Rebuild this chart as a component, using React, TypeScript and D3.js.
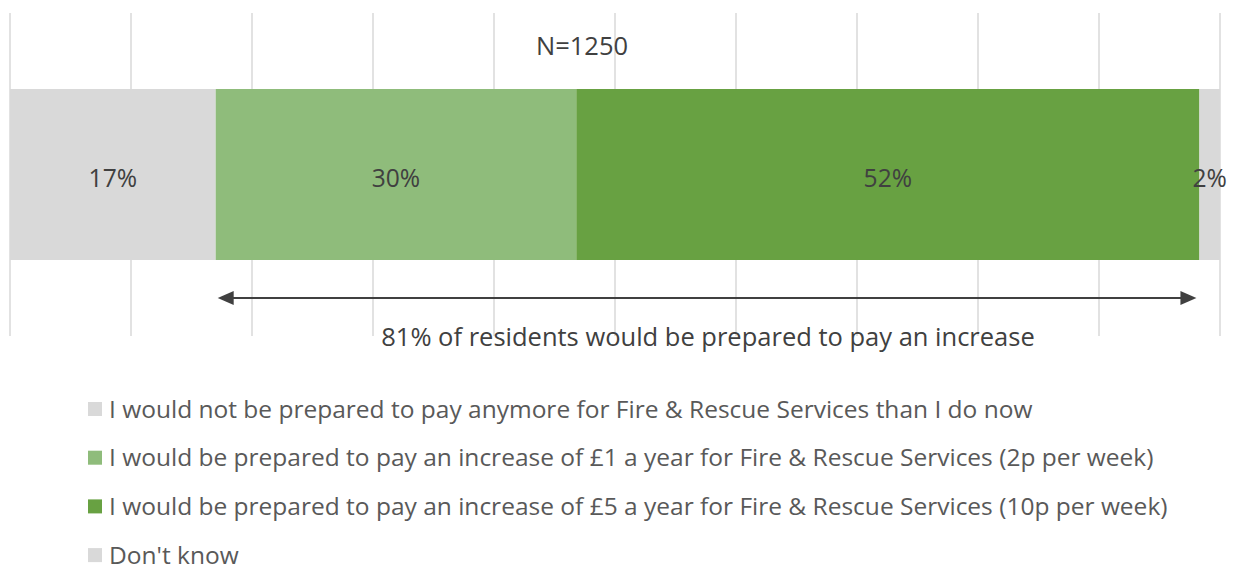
import React from "react";
import * as d3 from "d3";

const categories = [
  "I would not be prepared to pay anymore for Fire & Rescue Services than I do now",
  "I would be prepared to pay an increase of £1 a year for Fire & Rescue Services (2p per week)",
  "I would be prepared to pay an increase of £5 a year for Fire & Rescue Services (10p per week)",
  "Don't know",
];
const values = [17.0, 29.8, 51.5, 1.7];
const labels = ["17%", "30%", "52%", "2%"];
const colors = ["#D9D9D9", "#8FBC7B", "#68A142", "#D9D9D9"];
const gridTicks = [0, 10, 20, 30, 40, 50, 60, 70, 80, 90, 100];
const sampleLabel = "N=1250";
const annotation = "81% of residents would be prepared to pay an increase";

const W = 1239;
const H = 570;
const FONT = "'Open Sans', sans-serif";

export default function App() {
  const x = d3.scaleLinear().domain([0, 100]).range([10, 1220]);
  const barY = 89;
  const barH = 171;

  const stacks: { start: number; end: number; i: number }[] = [];
  let acc = 0;
  values.forEach((v, i) => {
    stacks.push({ start: acc, end: acc + v, i });
    acc += v;
  });

  const arrowStart = x(values[0]) + 2;
  const arrowEnd = x(values[0] + values[1] + values[2]) - 3;
  const arrowY = 298;

  return (
    <svg
      width={W}
      height={H}
      style={{ position: "absolute", left: 0, top: 0, background: "#fff" }}
      fontFamily={FONT}
    >
      {gridTicks.map((t) => (
        <line key={t} x1={x(t)} x2={x(t)} y1={13} y2={336} stroke="#D9D9D9" strokeWidth={1.5} />
      ))}
      <text x={582} y={55} textAnchor="middle" fontSize={25.5} fill="#404040">
        {sampleLabel}
      </text>
      {stacks.map((s) => (
        <rect
          key={s.i}
          x={x(s.start)}
          y={barY}
          width={x(s.end) - x(s.start)}
          height={barH}
          fill={colors[s.i]}
        />
      ))}
      {stacks.map((s) => (
        <text
          key={"l" + s.i}
          x={(x(s.start) + x(s.end)) / 2}
          y={barY + barH / 2 + 12}
          textAnchor="middle"
          fontSize={24.6}
          fill="#404040"
        >
          {labels[s.i]}
        </text>
      ))}
      <line x1={arrowStart + 10} x2={arrowEnd - 10} y1={arrowY} y2={arrowY} stroke="#404040" strokeWidth={2} />
      <path
        d={`M${arrowStart},${arrowY} L${arrowStart + 16},${arrowY - 7} L${arrowStart + 16},${arrowY + 7} Z`}
        fill="#404040"
      />
      <path
        d={`M${arrowEnd},${arrowY} L${arrowEnd - 16},${arrowY - 7} L${arrowEnd - 16},${arrowY + 7} Z`}
        fill="#404040"
      />
      <text x={708} y={346} textAnchor="middle" fontSize={25.5} fill="#404040">
        {annotation}
      </text>
      {categories.map((c, i) => (
        <g key={"lg" + i} transform={`translate(88, ${409 + i * 48.7})`}>
          <rect x={0} y={-7} width={14} height={14} fill={colors[i]} />
          <text x={21} y={8.5} fontSize={24.5} fill="#595959">
            {c}
          </text>
        </g>
      ))}
    </svg>
  );
}
